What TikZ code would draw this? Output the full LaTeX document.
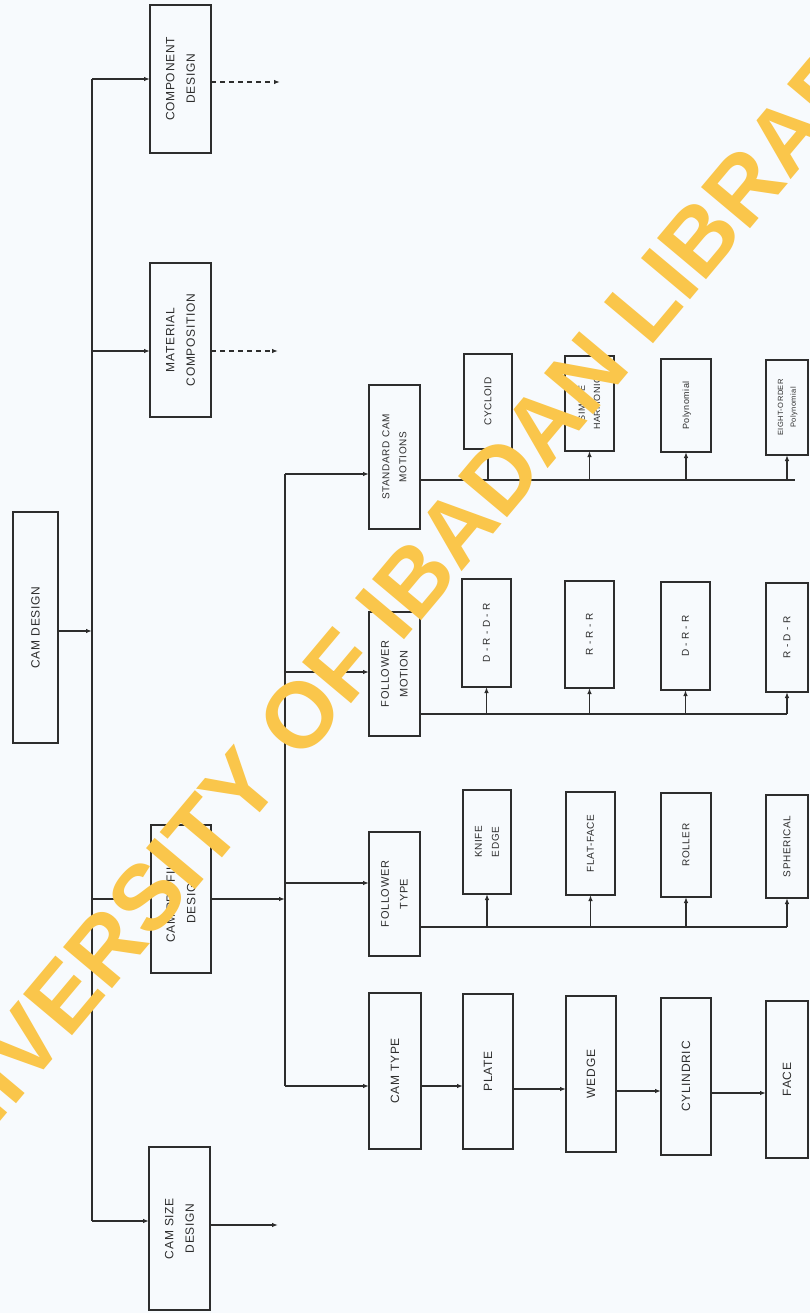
\documentclass[tikz,border=0pt]{standalone}
\usepackage{fontspec}
\setmainfont{Liberation Sans}
\newfontfamily\boxfont[LetterSpace=6]{Liberation Sans}
\usetikzlibrary{arrows.meta}
\definecolor{ink}{RGB}{45,45,45}
\definecolor{wm}{RGB}{250,198,75}
\definecolor{paper}{RGB}{247,250,253}
\tikzset{
  boxst/.style={draw=ink, line width=1.6pt, inner sep=0pt, outer sep=0pt, text=ink, align=center},
  conn/.style={draw=ink, line width=1.2pt},
  arr/.style={conn, -{Latex[length=6pt,width=4.5pt]}},
  dsh/.style={dash pattern=on 5pt off 4pt},
  wmark/.style={text=wm, font=\fontsize{93}{93}\selectfont\bfseries, inner sep=0pt},
}
\newcommand\mkbox[7]{%
  \node[boxst,minimum width={(#4-#2)*1pt},minimum height={(#5-#3)*1pt},
        font=\boxfont\fontsize{#6}{#6}\selectfont] (#1) at ({(#2+#4)/2},{(#3+#5)/2})
        {\rotatebox{90}{\renewcommand\arraystretch{1.7}\begin{tabular}{@{}c@{}}#7\end{tabular}}};}
\begin{document}
\begin{tikzpicture}[x=1pt,y=-1pt]
\fill[paper] (0,0) rectangle (810,1313);
\useasboundingbox (0,0) rectangle (810,1313);

% first level
\mkbox{comp}{150}{5}{211}{153}{12}{COMPONENT\\DESIGN}
\mkbox{mat}{150}{263}{211}{417}{12}{MATERIAL\\COMPOSITION}
\mkbox{cd}{13}{512}{58}{743}{12}{CAM DESIGN}
\mkbox{cpd}{151}{825}{211}{973}{12}{CAM PROFILE\\DESIGN}
\mkbox{csd}{149}{1147}{210}{1310}{12}{CAM SIZE\\DESIGN}

% second level
\mkbox{std}{369}{385}{420}{529}{10}{STANDARD CAM\\MOTIONS}
\mkbox{fm}{369}{612}{420}{736}{11}{FOLLOWER\\MOTION}
\mkbox{ft}{369}{832}{420}{956}{11}{FOLLOWER\\TYPE}
\mkbox{ct}{369}{993}{421}{1149}{12}{CAM TYPE}

% standard cam motions row
\mkbox{s1}{464}{354}{512}{449}{10}{CYCLOID}
\mkbox{s2}{565}{356}{614}{451}{9}{SIMPLE\\HARMONIC}
\mkbox{s3}{661}{359}{711}{452}{9}{Polynomial}
\mkbox{s4}{766}{360}{808}{455}{7.5}{EIGHT-ORDER\\Polynomial}

% follower motion row
\mkbox{m1}{462}{579}{511}{687}{10}{D - R - D - R}
\mkbox{m2}{565}{581}{614}{688}{10}{R - R - R}
\mkbox{m3}{661}{582}{710}{690}{10}{D - R - R}
\mkbox{m4}{766}{583}{808}{692}{10}{R - D - R}

% follower type row
\mkbox{f1}{463}{790}{511}{894}{10}{KNIFE\\EDGE}
\mkbox{f2}{566}{792}{615}{895}{10}{FLAT-FACE}
\mkbox{f3}{661}{793}{711}{897}{10}{ROLLER}
\mkbox{f4}{766}{795}{808}{898}{10}{SPHERICAL}

% cam type row
\mkbox{p1}{463}{994}{513}{1149}{12}{PLATE}
\mkbox{p2}{566}{996}{616}{1152}{12}{WEDGE}
\mkbox{p3}{661}{998}{711}{1155}{12}{CYLINDRIC}
\mkbox{p4}{766}{1001}{808}{1158}{12}{FACE}

% main trunk
\coordinate (tA) at (92,79);
\coordinate (tB) at (92,351);
\coordinate (tC) at (92,631);
\coordinate (tE) at (92,1221);
\draw[conn] (tA) -- (tE);
\draw[arr] (cd.east |- tC) -- (tC);
\draw[arr] (tA) -- (tA -| comp.west);
\draw[arr] (tB) -- (tB -| mat.west);
\draw[arr] (tA |- cpd.west) -- (cpd.west);
\draw[arr] (tE) -- (tE -| csd.west);

% outputs of first level
\coordinate (oA) at (280,82);
\coordinate (oB) at (278,351);
\coordinate (oE) at (278,1225);
\draw[arr,dsh] (oA -| comp.east) -- (oA);
\draw[arr,dsh] (oB -| mat.east) -- (oB);
\draw[arr] (oE -| csd.east) -- (oE);

% second trunk
\coordinate (uA) at (285,474);
\coordinate (uB) at (285,672);
\coordinate (uC) at (285,883);
\coordinate (uD) at (285,1086);
\draw[conn] (uA) -- (uD);
\draw[arr] (cpd.east) -- (cpd.east -| uA);
\draw[arr] (uA) -- (uA -| std.west);
\draw[arr] (uB) -- (uB -| fm.west);
\draw[arr] (uC) -- (uC -| ft.west);
\draw[arr] (uD) -- (uD -| ct.west);

% standard cam motions bus
\coordinate (bs) at (795,480);
\draw[conn] (std.east |- bs) -- (bs);
\foreach \n in {s1,s2,s3,s4} \draw[arr] (\n.south |- bs) -- (\n.south);

% follower motion bus
\coordinate (bm) at (0,714);
\draw[conn] (fm.east |- bm) -- (m4.south |- bm);
\foreach \n in {m1,m2,m3,m4} \draw[arr] (\n.south |- bm) -- (\n.south);

% follower type bus
\coordinate (bf) at (0,927);
\draw[conn] (ft.east |- bf) -- (f4.south |- bf);
\foreach \n in {f1,f2,f3,f4} \draw[arr] (\n.south |- bf) -- (\n.south);

% cam type chain
\coordinate (c1) at (0,1086);
\coordinate (c2) at (0,1089);
\coordinate (c3) at (0,1091);
\coordinate (c4) at (0,1093);
\draw[arr] (ct.east |- c1) -- (p1.west |- c1);
\draw[arr] (p1.east |- c2) -- (p2.west |- c2);
\draw[arr] (p2.east |- c3) -- (p3.west |- c3);
\draw[arr] (p3.east |- c4) -- (p4.west |- c4);

% watermark
\node[wmark, rotate=50] (wmk) at (395,602) {UNIVERSITY OF IBADAN LIBRARY};
\end{tikzpicture}
\end{document}
